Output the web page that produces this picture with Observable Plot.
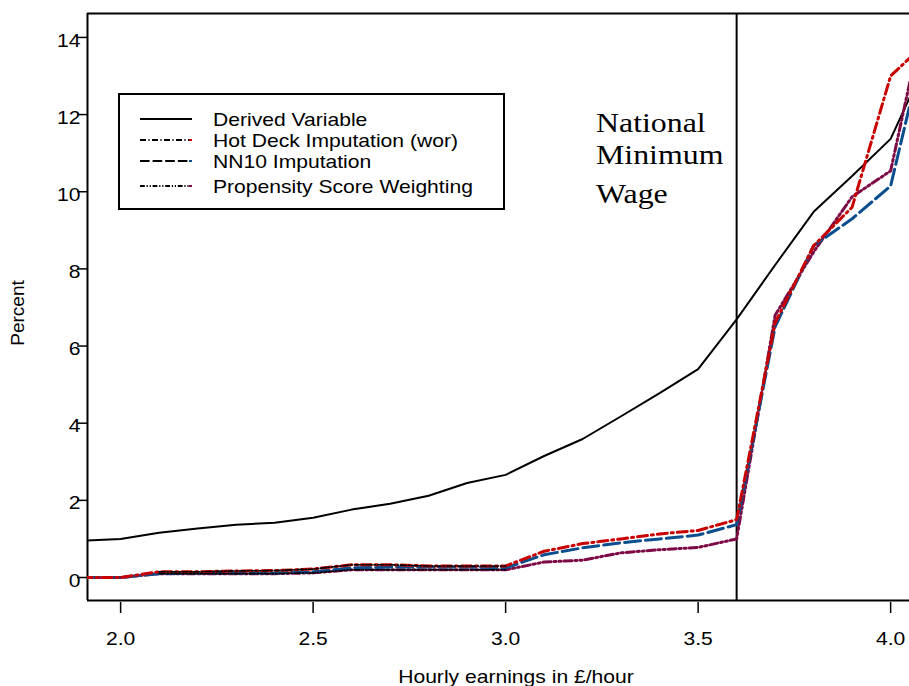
<!DOCTYPE html>
<html><head><meta charset="utf-8">
<script src="https://cdn.jsdelivr.net/npm/d3@7"></script>
<script src="https://cdn.jsdelivr.net/npm/@observablehq/plot@0.6"></script>
<style>
body{margin:0;background:#fff}
#chart{width:909px;height:686px;position:relative;overflow:hidden}
</style>
</head><body><div id="chart"></div>
<script>
// ---- data ----
const earnings   = [1.9, 2.0, 2.1, 2.2, 2.3, 2.4, 2.5, 2.6, 2.7, 2.8, 2.9, 3.0, 3.1, 3.2, 3.3, 3.4, 3.5, 3.6, 3.7, 3.8, 3.9, 4.0, 4.05];
const derived    = [0.95, 1.0, 1.16, 1.27, 1.37, 1.42, 1.55, 1.76, 1.91, 2.12, 2.45, 2.66, 3.15, 3.59, 4.18, 4.78, 5.40, 6.69, 8.10, 9.48, 10.41, 11.37, 12.45];
const hotDeck    = [0, 0, 0.15, 0.15, 0.17, 0.18, 0.22, 0.33, 0.33, 0.30, 0.30, 0.30, 0.68, 0.88, 1.00, 1.13, 1.22, 1.50, 6.60, 8.60, 9.60, 13.00, 13.47];
const nn10       = [0, 0, 0.10, 0.12, 0.12, 0.12, 0.15, 0.25, 0.27, 0.27, 0.27, 0.25, 0.59, 0.77, 0.90, 1.00, 1.10, 1.37, 6.50, 8.60, 9.30, 10.15, 12.25];
const propensity = [0, 0, 0.10, 0.10, 0.10, 0.10, 0.12, 0.20, 0.20, 0.20, 0.20, 0.20, 0.40, 0.45, 0.64, 0.72, 0.78, 1.00, 6.80, 8.44, 9.87, 10.54, 12.85];
const seriesNames = ["Derived Variable", "Hot Deck Imputation (wor)", "NN10 Imputation", "Propensity Score Weighting"];
const xTicks = [2.0, 2.5, 3.0, 3.5, 4.0];
const yTicks = [0, 2, 4, 6, 8, 10, 12, 14];
const minimumWage = 3.6;
const annotationLines = ["National", "Minimum", "Wage"];
const xTitle = "Hourly earnings in £/hour";
const yTitle = "Percent";
const monoRange = [2.1, 3.0]; // stretch where the imputed lines render in black

// ---- styling ----
const FONT = "'Liberation Sans', Arial, sans-serif";
const SERIF = "'Liberation Serif', 'Times New Roman', serif";
const FS = 19;
const STRETCH = 1.11;
const SERIF_STRETCH = 1.18;
const styles = [
  {stroke: "black", dash: null, width: 2},
  {stroke: "#c80000", dash: "10,4,2,4", width: 3},
  {stroke: "#0b4e8e", dash: "16,5", width: 3},
  {stroke: "#7d0a45", dash: "8,3,2,3,2,3", width: 3}
];
const xDomain = [1.914, 4.049];
const yDomain = [-0.596, 14.62];

const rows = earnings.map((x, i) => ({x, derived: derived[i], hot: hotDeck[i], nn: nn10[i], ps: propensity[i]}));
const mono = rows.filter(d => d.x >= monoRange[0] && d.x <= monoRange[1]);

const plot = Plot.plot({
  width: 909, height: 686,
  marginLeft: 87, marginRight: 0, marginTop: 13, marginBottom: 86,
  style: {fontFamily: FONT, fontSize: FS + "px", background: "white", color: "black"},
  x: {domain: xDomain, label: null},
  y: {domain: yDomain, label: null},
  marks: [
    Plot.axisY({ticks: yTicks, tickSize: 10, text: null, label: null, strokeWidth: 1.5}),
    Plot.axisY({ticks: yTicks, tickSize: 0, tickPadding: 7, dy: 3, label: null, tickFormat: d => String(d), fontSize: FS}),
    Plot.axisX({ticks: xTicks, tickSize: 11, text: null, label: null, dy: 2, strokeWidth: 1.5}),
    Plot.axisX({ticks: xTicks, tickSize: 0, tickPadding: 31, label: null, tickFormat: d3.format(".1f"), fontSize: FS}),
    Plot.ruleX([xDomain[0]], {stroke: "black", strokeWidth: 2}),
    Plot.ruleY([yDomain[0], yDomain[1]], {stroke: "black", strokeWidth: 2}),
    Plot.ruleX([minimumWage], {stroke: "black", strokeWidth: 2}),
    Plot.lineY(rows, {x: "x", y: "derived", stroke: styles[0].stroke, strokeWidth: styles[0].width, clip: true}),
    Plot.lineY(rows, {x: "x", y: "ps", stroke: styles[3].stroke, strokeWidth: styles[3].width, strokeDasharray: styles[3].dash, clip: true}),
    Plot.lineY(rows, {x: "x", y: "nn", stroke: styles[2].stroke, strokeWidth: styles[2].width, strokeDasharray: styles[2].dash, clip: true}),
    Plot.lineY(rows, {x: "x", y: "hot", stroke: styles[1].stroke, strokeWidth: styles[1].width, strokeDasharray: styles[1].dash, clip: true}),
    Plot.lineY(mono, {x: "x", y: "hot", stroke: "black", strokeWidth: 1.6, strokeDasharray: "6,2,1.5,2"}),
    Plot.lineY(mono, {x: "x", y: "ps", stroke: "black", strokeWidth: 1.6, strokeDasharray: "6,2,1.5,2,1.5,2"})
  ]
});

document.getElementById("chart").appendChild(plot);
const svg = d3.select(plot);

// axis titles
svg.append("text").attr("x", 516).attr("y", 683).attr("text-anchor", "middle")
  .attr("font-family", FONT).attr("font-size", FS).attr("class", "stretch").text(xTitle);
svg.append("text").attr("transform", "translate(24,313) rotate(-90)").attr("text-anchor", "middle")
  .attr("font-family", FONT).attr("font-size", FS).text(yTitle);

// annotation
const ann = [132, 164, 203];
annotationLines.forEach((t, i) => {
  svg.append("text").attr("x", 596).attr("y", ann[i]).attr("text-anchor", "start").attr("font-family", SERIF)
    .attr("font-size", 27).attr("class", "serif-stretch").text(t);
});

// legend
const lg = svg.append("g");
lg.append("rect").attr("x", 119).attr("y", 94).attr("width", 385).attr("height", 115)
  .attr("fill", "white").attr("stroke", "black").attr("stroke-width", 2);
const rowY = [119, 140, 161, 186];
seriesNames.forEach((name, i) => {
  const s = styles[i];
  const y = rowY[i];
  lg.append("line").attr("x1", 140).attr("x2", 192).attr("y1", y).attr("y2", y)
    .attr("stroke", "black").attr("stroke-width", 2).attr("stroke-dasharray", s.dash ? s.dash.split(",").map(v => v * 0.6).join(",") : null);
  if (i > 0) lg.append("line").attr("x1", 189).attr("x2", 192).attr("y1", y).attr("y2", y)
    .attr("stroke", s.stroke).attr("stroke-width", 2);
  lg.append("text").attr("x", 213).attr("y", y + 7).attr("text-anchor", "start").attr("font-family", FONT).attr("font-size", FS)
    .attr("class", "stretch").text(name);
});

// stretch horizontal texts slightly (reference is horizontally widened)
function stretch(sel, k) {
  svg.selectAll(sel).each(function () {
    const L = this.getComputedTextLength();
    this.setAttribute("textLength", L * k);
    this.setAttribute("lengthAdjust", "spacingAndGlyphs");
  });
}
stretch("g[aria-label$='tick label'] text, text.stretch", STRETCH);
stretch("text.serif-stretch", SERIF_STRETCH);
</script>
</body></html>
